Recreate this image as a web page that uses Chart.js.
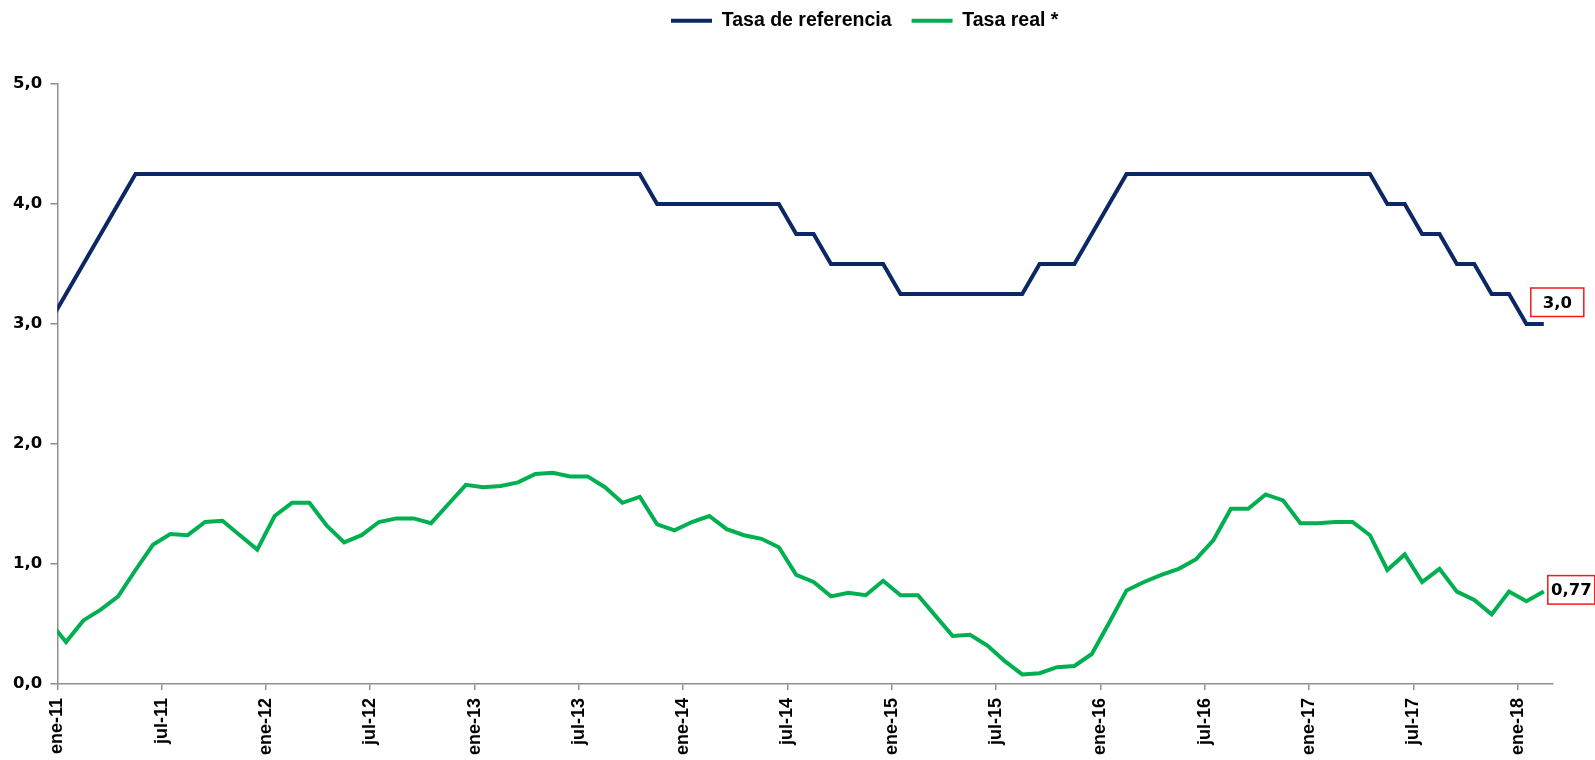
<!DOCTYPE html>
<html>
<head>
<meta charset="utf-8">
<script src="https://cdn.jsdelivr.net/npm/chart.js@4/dist/chart.umd.min.js"></script>
<style>
  html, body { margin: 0; padding: 0; background: #ffffff; }
  #wrap { width: 1595px; height: 760px; }
</style>
</head>
<body>
<div id="wrap"><canvas id="c" width="1595" height="760"></canvas></div>
<script>
// Monthly categories (points sit in the middle of each month; dic-10 is clipped by the axis)
const months = [
  'dic-10',
  'ene-11','feb-11','mar-11','abr-11','may-11','jun-11','jul-11','ago-11','sep-11','oct-11','nov-11','dic-11',
  'ene-12','feb-12','mar-12','abr-12','may-12','jun-12','jul-12','ago-12','sep-12','oct-12','nov-12','dic-12',
  'ene-13','feb-13','mar-13','abr-13','may-13','jun-13','jul-13','ago-13','sep-13','oct-13','nov-13','dic-13',
  'ene-14','feb-14','mar-14','abr-14','may-14','jun-14','jul-14','ago-14','sep-14','oct-14','nov-14','dic-14',
  'ene-15','feb-15','mar-15','abr-15','may-15','jun-15','jul-15','ago-15','sep-15','oct-15','nov-15','dic-15',
  'ene-16','feb-16','mar-16','abr-16','may-16','jun-16','jul-16','ago-16','sep-16','oct-16','nov-16','dic-16',
  'ene-17','feb-17','mar-17','abr-17','may-17','jun-17','jul-17','ago-17','sep-17','oct-17','nov-17','dic-17',
  'ene-18','feb-18'
];

const tasaReferencia = [
  3.00,
  3.25,3.50,3.75,4.00,4.25,4.25,4.25,4.25,4.25,4.25,4.25,4.25,
  4.25,4.25,4.25,4.25,4.25,4.25,4.25,4.25,4.25,4.25,4.25,4.25,
  4.25,4.25,4.25,4.25,4.25,4.25,4.25,4.25,4.25,4.25,4.00,4.00,
  4.00,4.00,4.00,4.00,4.00,4.00,3.75,3.75,3.50,3.50,3.50,3.50,
  3.25,3.25,3.25,3.25,3.25,3.25,3.25,3.25,3.50,3.50,3.50,3.75,
  4.00,4.25,4.25,4.25,4.25,4.25,4.25,4.25,4.25,4.25,4.25,4.25,
  4.25,4.25,4.25,4.25,4.00,4.00,3.75,3.75,3.50,3.50,3.25,3.25,
  3.00,3.00
];

const tasaReal = [
  0.53,
  0.35,0.53,0.62,0.73,0.95,1.16,1.25,1.24,1.35,1.36,1.24,1.12,
  1.40,1.51,1.51,1.32,1.18,1.24,1.35,1.38,1.38,1.34,1.50,1.66,
  1.64,1.65,1.68,1.75,1.76,1.73,1.73,1.64,1.51,1.56,1.33,1.28,
  1.35,1.40,1.29,1.24,1.21,1.14,0.91,0.85,0.73,0.76,0.74,0.86,
  0.74,0.74,0.57,0.40,0.41,0.32,0.19,0.08,0.09,0.14,0.15,0.25,
  0.51,0.78,0.85,0.91,0.96,1.04,1.20,1.46,1.46,1.58,1.53,1.34,
  1.34,1.35,1.35,1.24,0.95,1.08,0.85,0.96,0.77,0.70,0.58,0.77,
  0.69,0.77
];

const xTickLabels = ['ene-11','jul-11','ene-12','jul-12','ene-13','jul-13','ene-14','jul-14',
                     'ene-15','jul-15','ene-16','jul-16','ene-17','jul-17','ene-18'];

const seriesNames = ['Tasa de referencia', 'Tasa real *'];
const seriesDecimals = [1, 2];

// month index -> x position (tick at start of each month, point mid-month)
function toPoints(values) {
  return values.map((v, i) => ({ x: i - 0.5, y: v }));
}

const AXIS_COLOR = '#8f8f8f';

const lastValueBoxes = {
  id: 'lastValueBoxes',
  afterDatasetsDraw(chart) {
    const ctx = chart.ctx;
    const specs = [
      { dx: -13, dy: -36, w: 53, h: 28.5 },
      { dx: 4, dy: -16, w: 47, h: 28.5 }
    ];
    chart.data.datasets.forEach((ds, di) => {
      const meta = chart.getDatasetMeta(di);
      const pt = meta.data[meta.data.length - 1];
      const val = ds.data[ds.data.length - 1].y;
      const txt = val.toFixed(seriesDecimals[di]).replace('.', ',');
      const s = specs[di];
      const bx = pt.x + s.dx, by = pt.y + s.dy;
      ctx.save();
      ctx.fillStyle = '#ffffff';
      ctx.fillRect(bx, by, s.w, s.h);
      ctx.strokeStyle = '#ee1c1c';
      ctx.lineWidth = 1.5;
      ctx.strokeRect(bx, by, s.w, s.h);
      ctx.fillStyle = '#000000';
      ctx.font = 'bold 16.5px "DejaVu Sans"';
      ctx.textAlign = 'center';
      ctx.textBaseline = 'middle';
      ctx.fillText(txt, bx + s.w / 2, by + s.h / 2 + 1);
      ctx.restore();
    });
  }
};

const legendShift = {
  id: 'legendShift',
  afterLayout(chart) {
    const lg = chart.legend;
    if (!lg) return;
    const h = lg.bottom - lg.top;
    lg.left = 651;
    lg.top = -9;
    lg.bottom = lg.top + h;
  }
};

const chart = new Chart(document.getElementById('c'), {
  type: 'line',
  data: {
    datasets: [
      {
        label: seriesNames[0],
        data: toPoints(tasaReferencia),
        borderColor: '#0b2865',
        backgroundColor: '#0b2865',
        borderWidth: 4,
        pointRadius: 0,
        tension: 0,
        clip: 0
      },
      {
        label: seriesNames[1],
        data: toPoints(tasaReal),
        borderColor: '#00b050',
        backgroundColor: '#00b050',
        borderWidth: 4,
        pointRadius: 0,
        tension: 0,
        clip: 0
      }
    ]
  },
  options: {
    responsive: false,
    devicePixelRatio: 1,
    animation: false,
    layout: { padding: { top: 0, right: 42.5, bottom: 0, left: 0 } },
    plugins: {
      tooltip: { enabled: false },
      legend: {
        position: 'top',
        align: 'start',
        labels: {
          usePointStyle: true,
          pointStyle: 'line',
          pointStyleWidth: 41,
          padding: 20,
          color: '#000000',
          font: { family: '"Liberation Sans", Arial, sans-serif', size: 19.5, weight: 'bold' }
        }
      }
    },
    scales: {
      x: {
        type: 'linear',
        min: 0,
        max: 86,
        afterFit(scale) { scale.height = 76; },
        border: { display: true, color: AXIS_COLOR, width: 1.5 },
        grid: { display: true, drawOnChartArea: false, drawTicks: true, tickLength: 6, color: AXIS_COLOR, lineWidth: 1.5 },
        ticks: {
          stepSize: 6,
          includeBounds: false,
          autoSkip: false,
          maxRotation: 90,
          minRotation: 90,
          padding: 8,
          color: '#000000',
          font: { family: '"Liberation Sans", Arial, sans-serif', size: 18, weight: 'bold' },
          callback: (v) => xTickLabels[v / 6]
        }
      },
      y: {
        min: 0,
        max: 5,
        afterFit(scale) { scale.width = 57.3; scale.paddingTop = 84; },
        border: { display: true, color: AXIS_COLOR, width: 1.5 },
        grid: { display: true, drawOnChartArea: false, drawTicks: true, tickLength: 7, color: AXIS_COLOR, lineWidth: 1.5 },
        ticks: {
          stepSize: 1,
          padding: 8,
          color: '#000000',
          font: { family: '"DejaVu Sans", sans-serif', size: 16.5, weight: 'bold' },
          callback: (v) => v.toFixed(1).replace('.', ',')
        }
      }
    }
  },
  plugins: [legendShift, lastValueBoxes]
});
</script>
</body>
</html>
